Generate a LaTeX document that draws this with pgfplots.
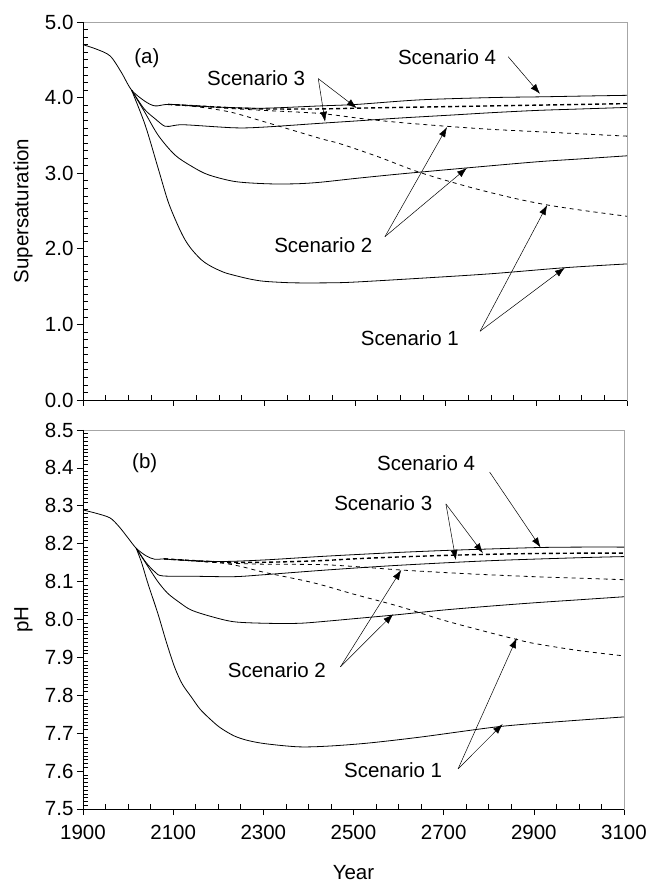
\documentclass[border=0pt]{standalone}
\usepackage{pgfplots}
\pgfplotsset{compat=1.18}
\usepackage{fontspec}
\setmainfont{Liberation Sans}
\usetikzlibrary{arrows.meta}
\newcommand\fs{\fontsize{20.5bp}{24bp}\selectfont}

\pgfplotsset{
  panel/.style={
    scale only axis, xmin=1900, xmax=3100,
    xtick={1900,2100,...,3100}, minor x tick num=3,
    tick align=outside, xtick pos=lower, ytick pos=left,
    major tick length=6bp, minor tick length=5bp,
    minor x tick style={yshift=5bp}, minor y tick style={xshift=5bp},
    tick style={black, line width=0.6bp},
    axis line style={gray!70, line width=0.8bp},
    /pgf/number format/assume math mode=true,
    /pgf/number format/1000 sep={},
    tick label style={font=\fs},
    xticklabel style={yshift=-7bp},
    label style={font=\fs},
    yticklabel style={/pgf/number format/fixed, /pgf/number format/fixed zerofill, /pgf/number format/precision=1},
    ylabel style={at={(axis description cs:-0.11,0.5)}, anchor=center},
    cycle list={{black, solid}},
    no markers,
    every axis plot/.append style={black, line width=0.8bp, smooth, tension=0.5},
    extra description/.code={
      \draw[black, line width=0.8bp] (rel axis cs:0,1) -- (rel axis cs:0,0) -- (rel axis cs:1,0);
    },
  },
  thindash/.style={black, dash pattern=on 4bp off 4bp, line width=0.8bp},
  thickdash/.style={black, dash pattern=on 4bp off 3bp, line width=1.4bp},
}
\tikzset{lab/.style={font=\fs, anchor=center, inner sep=0pt},
  arr/.style={-{Latex[length=10bp,width=7bp]}, line width=0.5bp}}

\begin{document}
\begin{tikzpicture}
\useasboundingbox (-83bp,-74bp) rectangle (566bp,809bp);

% (a) supersaturation
\begin{axis}[panel, at={(0,409bp)}, anchor=south west,
  width=544bp, height=378bp,
  ymin=0, ymax=5, ytick={0,1,...,5}, minor y tick num=9,
  xticklabels={}, ylabel={Supersaturation}]
% scenario 4
\addplot coordinates {(1900,4.70) (1930,4.64) (1960,4.55) (1985,4.33) (2007,4.10) (2037,3.95) (2059,3.89) (2088,3.91) (2150,3.89) (2213,3.87) (2300,3.86) (2423,3.89) (2504,3.91) (2643,3.97) (2800,4.00) (2908,4.01) (3000,4.02) (3100,4.03)};
% scenario 3
\addplot coordinates {(2007,4.10) (2035,3.85) (2059,3.72) (2081,3.62) (2100,3.63) (2125,3.64) (2235,3.60) (2300,3.61) (2423,3.66) (2500,3.69) (2600,3.73) (2716,3.77) (2800,3.80) (2900,3.83) (3000,3.85) (3100,3.87)};
\addplot[thickdash] coordinates {(2088,3.91) (2150,3.89) (2213,3.87) (2300,3.85) (2423,3.85) (2504,3.86) (2600,3.87) (2700,3.88) (2800,3.89) (2900,3.90) (3000,3.91) (3100,3.92)};
% scenario 2
\addplot coordinates {(2007,4.10) (2035,3.82) (2066,3.50) (2103,3.24) (2140,3.09) (2176,2.98) (2235,2.89) (2306,2.86) (2370,2.86) (2423,2.88) (2500,2.93) (2600,2.99) (2747,3.07) (2900,3.15) (3000,3.19) (3100,3.23)};
\addplot[thindash] coordinates {(2088,3.91) (2150,3.89) (2213,3.86) (2300,3.83) (2423,3.79) (2518,3.72) (2600,3.67) (2703,3.62) (2800,3.58) (2900,3.55) (3000,3.52) (3100,3.49)};
% scenario 1
\addplot coordinates {(2007,4.10) (2037,3.64) (2066,3.06) (2088,2.62) (2110,2.30) (2125,2.12) (2140,1.99) (2160,1.86) (2176,1.79) (2195,1.73) (2215,1.68) (2240,1.64) (2268,1.60) (2300,1.57) (2363,1.55) (2445,1.55) (2500,1.56) (2643,1.61) (2800,1.67) (2963,1.75) (3100,1.80)};
\addplot[thindash] coordinates {(2088,3.91) (2150,3.88) (2224,3.81) (2300,3.68) (2423,3.46) (2467,3.39) (2550,3.22) (2643,3.01) (2750,2.82) (2850,2.67) (2924,2.58) (3000,2.51) (3100,2.43)};

\node[lab] at (axis cs:2041,4.52) {(a)};
\node[lab] at (axis cs:2282,4.26) {Scenario 3};
\draw[arr] (axis cs:2419,4.25) -- (axis cs:2434,3.68);
\draw[arr] (axis cs:2419,4.25) -- (axis cs:2504,3.86);
\node[lab] at (axis cs:2703,4.54) {Scenario 4};
\draw[arr] (axis cs:2838,4.54) -- (axis cs:2908,4.05);
\node[lab] at (axis cs:2430,2.05) {Scenario 2};
\draw[arr] (axis cs:2566,2.16) -- (axis cs:2703,3.61);
\draw[arr] (axis cs:2566,2.16) -- (axis cs:2747,3.07);
\node[lab] at (axis cs:2621,0.82) {Scenario 1};
\draw[arr] (axis cs:2776,0.91) -- (axis cs:2924,2.58);
\draw[arr] (axis cs:2776,0.91) -- (axis cs:2963,1.75);
\end{axis}

% (b) pH
\begin{axis}[panel, at={(0,0)}, anchor=south west,
  width=541bp, height=379bp,
  ymin=7.5, ymax=8.5, ytick={7.5,7.6,...,8.51}, minor y tick num=9,
  xlabel={Year}, ylabel={pH},
  xlabel style={at={(axis description cs:0.5,-0.168)}, anchor=center}]
% scenario 4
\addplot coordinates {(1900,8.289) (1930,8.280) (1960,8.268) (1980,8.245) (2000,8.215) (2018,8.188) (2040,8.168) (2059,8.159) (2080,8.160) (2100,8.158) (2200,8.153) (2300,8.157) (2423,8.166) (2500,8.171) (2600,8.177) (2700,8.182) (2800,8.186) (2915,8.190) (3000,8.191) (3100,8.191)};
% scenario 3
\addplot coordinates {(2018,8.188) (2040,8.150) (2060,8.125) (2077,8.115) (2150,8.114) (2235,8.113) (2300,8.118) (2445,8.131) (2600,8.143) (2800,8.155) (3000,8.163) (3100,8.166)};
\addplot[thickdash] coordinates {(2080,8.160) (2200,8.152) (2300,8.151) (2423,8.155) (2500,8.160) (2600,8.165) (2700,8.169) (2800,8.172) (2900,8.174) (3000,8.175) (3100,8.175)};
% scenario 2
\addplot coordinates {(2018,8.188) (2044,8.140) (2066,8.100) (2088,8.069) (2114,8.045) (2140,8.025) (2184,8.008) (2235,7.994) (2306,7.990) (2380,7.990) (2445,7.996) (2500,8.002) (2592,8.012) (2700,8.025) (2800,8.035) (2900,8.044) (3000,8.052) (3100,8.060)};
\addplot[thindash] coordinates {(2080,8.160) (2200,8.150) (2300,8.146) (2423,8.145) (2500,8.140) (2600,8.131) (2700,8.124) (2800,8.118) (2900,8.113) (3000,8.109) (3100,8.105)};
% scenario 1
\addplot coordinates {(2018,8.188) (2030,8.150) (2044,8.095) (2066,8.016) (2085,7.940) (2103,7.875) (2120,7.830) (2140,7.796) (2160,7.763) (2184,7.735) (2205,7.714) (2235,7.693) (2265,7.681) (2306,7.672) (2379,7.664) (2445,7.666) (2533,7.674) (2650,7.690) (2820,7.717) (2950,7.730) (3100,7.743)};
\addplot[thindash] coordinates {(2080,8.160) (2200,8.150) (2250,8.140) (2300,8.125) (2400,8.100) (2445,8.086) (2500,8.067) (2600,8.035) (2700,7.998) (2800,7.966) (2860,7.948) (2900,7.937) (3000,7.918) (3100,7.904)};

\node[lab] at (axis cs:2037,8.413) {(b)};
\node[lab] at (axis cs:2661,8.413) {Scenario 4};
\draw[arr] (axis cs:2802,8.389) -- (axis cs:2915,8.19);
\node[lab] at (axis cs:2566,8.307) {Scenario 3};
\draw[arr] (axis cs:2705,8.305) -- (axis cs:2727,8.157);
\draw[arr] (axis cs:2705,8.305) -- (axis cs:2787,8.175);
\node[lab] at (axis cs:2330,7.867) {Scenario 2};
\draw[arr] (axis cs:2471,7.875) -- (axis cs:2606,8.131);
\draw[arr] (axis cs:2471,7.875) -- (axis cs:2588,8.014);
\node[lab] at (axis cs:2588,7.603) {Scenario 1};
\draw[arr] (axis cs:2732,7.606) -- (axis cs:2862,7.951);
\draw[arr] (axis cs:2732,7.606) -- (axis cs:2831,7.724);
\end{axis}
\end{tikzpicture}
\end{document}
